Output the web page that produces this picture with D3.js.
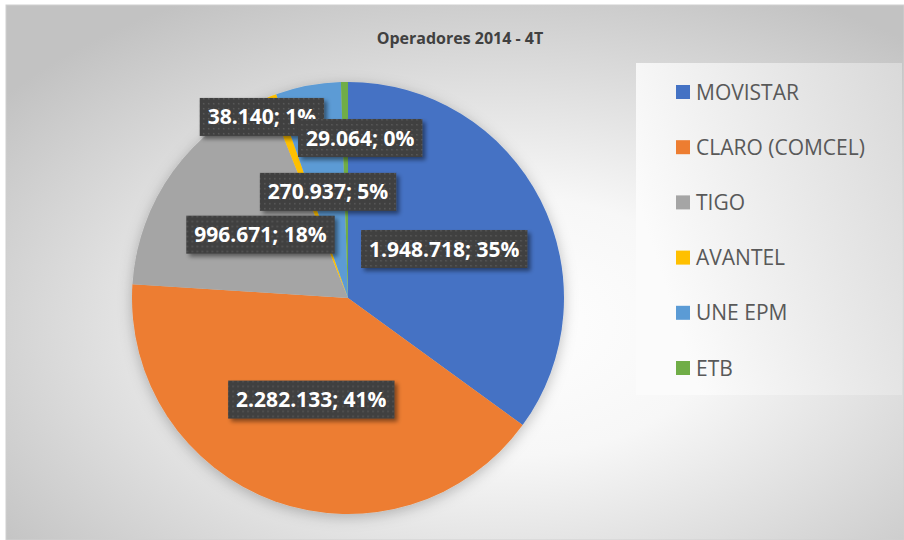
<!DOCTYPE html>
<meta charset="utf-8">
<style>
body {
  margin: 0;
  background: #fff;
}
svg {
  display: block;
}
.title {
  font-family: "Open Sans";
  font-weight: bold;
  font-size: 16px;
  fill: #404040;
}
.legend text {
  font-family: "Open Sans";
  font-size: 21px;
  fill: #595959;
}
.label text {
  font-family: "Open Sans";
  font-weight: bold;
  font-size: 21px;
  fill: #fff;
}
</style>
<body>
<script src="https://cdn.jsdelivr.net/npm/d3@7"></script>
<script>

var categories = ["MOVISTAR", "CLARO (COMCEL)", "TIGO", "AVANTEL", "UNE EPM", "ETB"];
var values = [1948718, 2282133, 996671, 38140, 270937, 29064];
// percentages as printed on the chart
var percents = [35, 41, 18, 1, 5, 0];
var colors = ["#4472C4", "#ED7D31", "#A5A5A5", "#FFC000", "#5B9BD5", "#70AD47"];

var width = 904,
    height = 540;

var cx = 348, cy = 298, radius = 216;

// small slices get pushed outward like excel does
var labelNudge = {"AVANTEL": [-48, -80], "ETB": [14, -52]};

var locale = d3.formatLocale({decimal: ",", thousands: ".", grouping: [3], currency: ["$", ""]});
var fmt = locale.format(",d");

var svg = d3.select("body").append("svg")
    .attr("width", width)
    .attr("height", height);

var defs = svg.append("defs");

var bg = defs.append("radialGradient")
    .attr("id", "bg")
    .attr("cx", "55%").attr("cy", "60%").attr("r", "70%");
bg.append("stop").attr("offset", "0%").attr("stop-color", "#ffffff");
bg.append("stop").attr("offset", "35%").attr("stop-color", "#f7f7f7");
bg.append("stop").attr("offset", "100%").attr("stop-color", "#c2c2c2");

var lg = defs.append("linearGradient")
    .attr("id", "legendBg")
    .attr("x1", "0%").attr("x2", "100%").attr("y1", "40%").attr("y2", "0%");
lg.append("stop").attr("offset", "0%").attr("stop-color", "#fbfbfb");
lg.append("stop").attr("offset", "100%").attr("stop-color", "#d9d9d9");

var dots = defs.append("pattern")
    .attr("id", "dots")
    .attr("width", 5).attr("height", 5)
    .attr("patternUnits", "userSpaceOnUse");
dots.append("rect").attr("width", 5).attr("height", 5).attr("fill", "#404040");
dots.append("rect").attr("x", 1).attr("y", 1).attr("width", 1.5).attr("height", 1.5).attr("fill", "#5a5a5a");

var pieShadow = defs.append("filter")
    .attr("id", "pieShadow")
    .attr("x", "-20%").attr("y", "-20%").attr("width", "140%").attr("height", "140%");
pieShadow.append("feDropShadow")
    .attr("dx", 0).attr("dy", 3)
    .attr("stdDeviation", 7)
    .attr("flood-color", "#000")
    .attr("flood-opacity", 0.25);

var boxShadow = defs.append("filter")
    .attr("id", "boxShadow")
    .attr("x", "-20%").attr("y", "-30%").attr("width", "140%").attr("height", "160%");
boxShadow.append("feDropShadow")
    .attr("dx", 3).attr("dy", 3)
    .attr("stdDeviation", 2)
    .attr("flood-color", "#000")
    .attr("flood-opacity", 0.45);

// chart area
svg.append("rect")
    .attr("x", 6).attr("y", 5)
    .attr("width", width - 6).attr("height", height - 5)
    .attr("fill", "url(#bg)")
    .attr("stroke", "#d0d0d0")
    .attr("stroke-width", 1);

svg.append("text")
    .attr("class", "title")
    .attr("x", 460)
    .attr("y", 44)
    .attr("text-anchor", "middle")
    .text("Operadores 2014 - 4T");

// legend
var legend = svg.append("g").attr("class", "legend");

legend.append("rect")
    .attr("x", 636).attr("y", 63)
    .attr("width", 266).attr("height", 332)
    .attr("fill", "url(#legendBg)");

var ly = d3.scalePoint()
    .domain(categories)
    .range([92, 368]);

var items = legend.selectAll(".item")
    .data(categories)
  .enter().append("g")
    .attr("class", "item")
    .attr("transform", function(d) { return "translate(676," + ly(d) + ")"; });

items.append("rect")
    .attr("y", -7)
    .attr("width", 14).attr("height", 14)
    .attr("fill", function(d, i) { return colors[i]; });

items.append("text")
    .attr("x", 20)
    .attr("dy", "0.36em")
    .text(function(d) { return d; });

// pie
var pie = d3.pie()
    .sort(null)
    .value(function(d) { return d.value; });

var data = categories.map(function(c, i) {
  return {name: c, value: values[i], pct: percents[i], color: colors[i]};
});

var arcs = pie(data);

var arc = d3.arc()
    .innerRadius(0)
    .outerRadius(radius);

var labelArc = d3.arc()
    .innerRadius(radius * 0.5)
    .outerRadius(radius * 0.5);

var gPie = svg.append("g")
    .attr("transform", "translate(" + cx + "," + cy + ")");

gPie.append("g")
    .attr("filter", "url(#pieShadow)")
  .selectAll("path")
    .data(arcs)
  .enter().append("path")
    .attr("d", arc)
    .attr("fill", function(d) { return d.data.color; });

var labels = gPie.selectAll(".label")
    .data(arcs)
  .enter().append("g")
    .attr("class", "label")
    .attr("transform", function(d) {
      var c = labelArc.centroid(d);
      var n = labelNudge[d.data.name] || [0, 0];
      return "translate(" + (c[0] + n[0]) + "," + (c[1] + n[1]) + ")";
    });

labels.append("rect")
    .attr("filter", "url(#boxShadow)")
    .attr("fill", "url(#dots)");

labels.append("text")
    .attr("text-anchor", "middle")
    .attr("dy", "0.36em")
    .text(function(d) { return fmt(d.data.value) + "; " + d.data.pct + "%"; });

labels.each(function() {
  var g = d3.select(this);
  var w = g.select("text").node().getComputedTextLength() + 16;
  g.select("rect")
    .attr("x", -w / 2).attr("y", -19)
    .attr("width", w).attr("height", 38);
});

</script>
